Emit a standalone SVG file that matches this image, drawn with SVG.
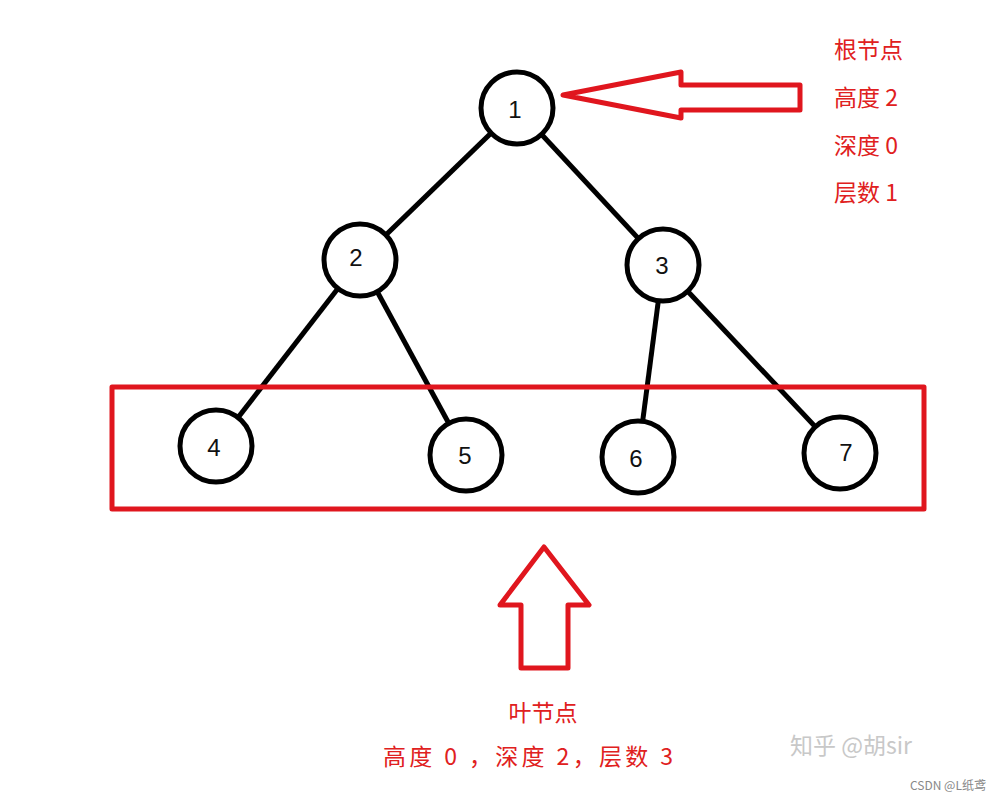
<svg xmlns="http://www.w3.org/2000/svg" width="1002" height="801" viewBox="0 0 1002 801">
<style>
.n circle{fill:#fff;stroke:#000;stroke-width:5}
.n text{font-family:"Liberation Sans",sans-serif;font-size:24px;fill:#111;text-anchor:middle}
.e line{stroke:#000;stroke-width:5}
.r{fill:none;stroke:#e0161e;stroke-width:5;stroke-linejoin:round}
.lab{font-family:"Noto Sans CJK SC",sans-serif;font-size:23px;fill:#e02020}
</style>
<rect width="1002" height="801" fill="#fff"/>
<g id="connectors" class="e">
<line x1="517" y1="108" x2="360" y2="260"/>
<line x1="517" y1="108" x2="663" y2="265"/>
<line x1="360" y1="260" x2="216" y2="446"/>
<line x1="360" y1="260" x2="466" y2="455"/>
<line x1="663" y1="265" x2="638" y2="457"/>
<line x1="663" y1="265" x2="840" y2="453"/>
</g>
<rect class="r" x="112" y="387" width="812" height="122"/>
<g id="n1" class="n"><circle cx="517" cy="108" r="36"/><text x="515" y="118">1</text></g>
<g id="n2" class="n"><circle cx="360" cy="260" r="36"/><text x="356" y="266">2</text></g>
<g id="n3" class="n"><circle cx="663" cy="265" r="36"/><text x="662" y="274">3</text></g>
<g id="n4" class="n"><circle cx="216" cy="446" r="36"/><text x="214" y="456">4</text></g>
<g id="n5" class="n"><circle cx="466" cy="455" r="36"/><text x="465" y="464">5</text></g>
<g id="n6" class="n"><circle cx="638" cy="457" r="36"/><text x="636" y="467">6</text></g>
<g id="n7" class="n"><circle cx="840" cy="453" r="36"/><text x="846" y="461">7</text></g>
<polygon class="r" points="563,95 681,72 681,85 800,85 800,110 681,110 681,118"/>
<polygon class="r" points="544,547 589,605 568,605 568,668 521,668 521,605 500,605"/>
<g class="lab">
<text x="834" y="58">根节点</text>
<text x="834" y="106">高度 2</text>
<text x="834" y="154">深度 0</text>
<text x="834" y="201">层数 1</text>
<text x="543" y="721" text-anchor="middle">叶节点</text>
<text x="383" y="765" textLength="290" lengthAdjust="spacing">高度 0 ，深度 2，层数 3</text>
</g>
<text x="790" y="754" font-family="Noto Sans CJK SC,sans-serif" font-size="23" fill="#c8c8c8">知乎 @胡sir</text>
<text x="986" y="790" text-anchor="end" font-family="Noto Sans CJK SC,sans-serif" font-size="12" fill="#888">CSDN @L纸鸢</text>
</svg>
